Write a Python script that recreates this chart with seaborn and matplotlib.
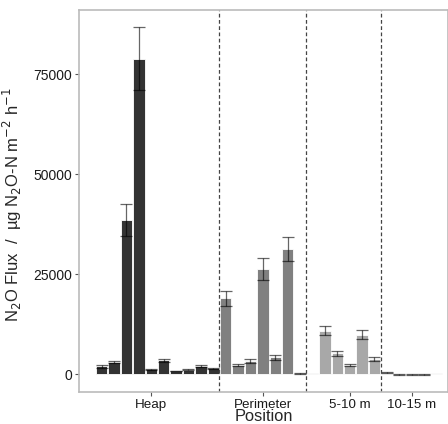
import matplotlib
matplotlib.use('Agg')

import matplotlib.pyplot as plt
import numpy as np
import pandas as pd
import seaborn as sns

sns.set_style("white")
plt.rcParams['font.family'] = ['Liberation Sans', 'DejaVu Sans']

# one bar per chamber, grouped by position
groups = ["Heap"] * 10 + ["Perimeter"] * 7 + ["5-10 m"] * 6 + ["10-15 m"] * 5
flux = [2000, 3000, 38600, 78800, 1250, 3500, 800, 1100, 2000, 1500,
        19000, 2300, 3300, 26300, 4200, 31200, 250,
        250, 10900, 5200, 2300, 9900, 3800,
        330, -120, -120, -100, 250]
se = [400, 300, 4000, 7900, 150, 400, 100, 150, 300, 150,
      1900, 350, 450, 2650, 550, 3000, 150,
      0, 1150, 650, 250, 1100, 450,
      120, 100, 100, 100, 0]
tick_pos = [5, 14, 21, 26]
tick_labels = ["Heap", "Perimeter", "5-10 m", "10-15 m"]
dividers = [10.5, 17.5, 23.5]
colors = {"Heap": "#333333", "Perimeter": "#808080",
          "5-10 m": "#a8a8a8", "10-15 m": "#b3b3b3"}

df = pd.DataFrame({"pos": np.arange(1, len(flux) + 1), "flux": flux,
                   "se": se, "group": groups})

fig = plt.figure(figsize=(4.48, 4.24), dpi=100)
ax = fig.add_axes([0.1763, 0.0762, 0.8237, 0.9002])

sns.barplot(data=df, x="pos", y="flux", hue="group", palette=colors,
            native_scale=True, dodge=False, width=0.92, errorbar=None,
            legend=False, edgecolor="white", linewidth=0.6, ax=ax)

has_err = df["se"] > 0
ax.errorbar(df.loc[has_err, "pos"], df.loc[has_err, "flux"],
            yerr=df.loc[has_err, "se"], fmt="none", ecolor="black",
            alpha=0.6, elinewidth=0.9, capsize=4, capthick=0.9)

for d in dividers:
    ax.axvline(d, color="#444444", ls=(0, (3, 2)), lw=0.9)

ax.set_xlim(-0.83, 28.93)
ax.set_ylim(-4350, 91000)
ax.set_xticks(tick_pos)
ax.set_xticklabels(tick_labels)
ax.set_yticks([0, 25000, 50000, 75000])
ax.tick_params(axis="both", length=3, width=0.8, color="#555555",
               labelsize=10, labelcolor="#1a1a1a", pad=2, bottom=True, left=True)
ax.tick_params(axis="x", labelsize=9.6)

for s in ax.spines.values():
    s.set_color("#bbbbbb")
    s.set_linewidth(1.2)

ax.set_xlabel("Position", fontsize=11.8)
ax.set_ylabel(r"N$_2$O Flux  /  µg N$_2$O-N m$^{-2}$ h$^{-1}$", fontsize=12)
ax.yaxis.set_label_coords(-0.15, 0.49)
ax.xaxis.set_label_coords(0.5, -0.046)

fig.savefig("out.png", dpi=100)
